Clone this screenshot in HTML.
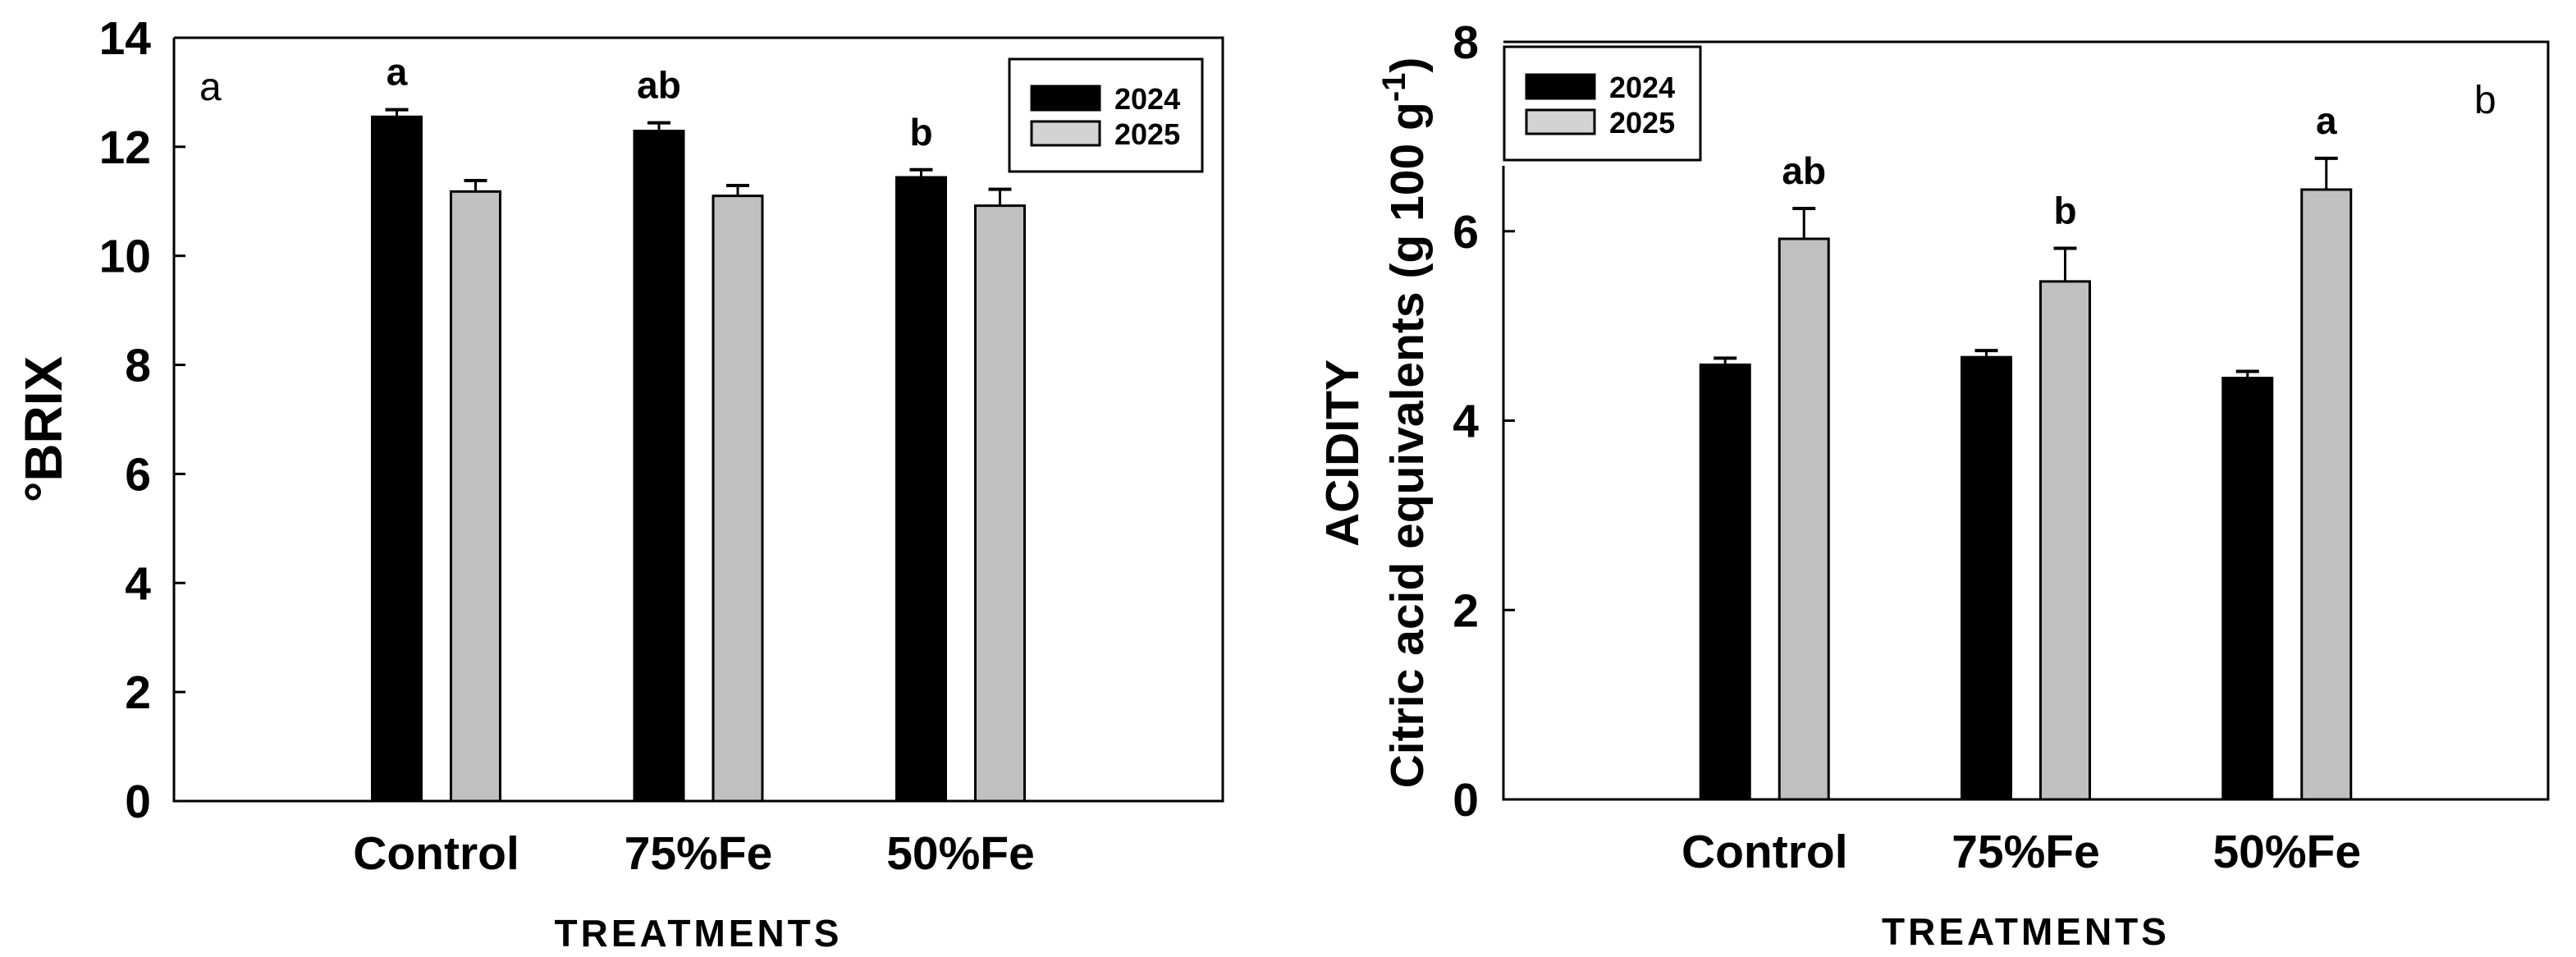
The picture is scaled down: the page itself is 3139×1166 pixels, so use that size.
<!DOCTYPE html>
<html><head><meta charset="utf-8"><style>
html,body{margin:0;padding:0;background:#fff;}
svg{display:block;}
text{font-family:"Liberation Sans",Arial,sans-serif;font-weight:bold;fill:#000;}
</style></head><body>
<svg id="fig" width="3139" height="1166" viewBox="0 0 3139 1166" xmlns="http://www.w3.org/2000/svg"></svg>
<script>
const categories = ["Control", "75%Fe", "50%Fe"];
const seriesNames = ["2024", "2025"];
const brix2024 = [12.55, 12.29, 11.44];
const brix2025 = [11.18, 11.10, 10.92];
const brixErr2024 = [0.13, 0.15, 0.14];
const brixErr2025 = [0.2, 0.19, 0.3];
const brixLetters = ["a", "ab", "b"];
const brixTicks = [0, 2, 4, 6, 8, 10, 12, 14];
const acid2024 = [4.59, 4.67, 4.45];
const acid2025 = [5.92, 5.47, 6.44];
const acidErr2024 = [0.07, 0.07, 0.07];
const acidErr2025 = [0.32, 0.35, 0.33];
const acidLetters = ["ab", "b", "a"];
const acidTicks = [0, 2, 4, 6, 8];

const NS = "http://www.w3.org/2000/svg";
const svg = document.getElementById("fig");
function mk(tag, attrs, parent) {
  const e = document.createElementNS(NS, tag);
  for (const k in attrs) e.setAttribute(k, attrs[k]);
  (parent || svg).appendChild(e);
  return e;
}
function txt(s, attrs, parent) { const t = mk("text", attrs, parent); t.textContent = s; return t; }

function panel(cfg) {
  const g = mk("g", {});
  
  
  const L = cfg.left, R = cfg.right, T = cfg.top, B = cfg.bottom;
  const y = v => B - (v - 0) / (cfg.ymax) * (B - T);
  const x = i => L + (i + 1) * (R - L) / 4;
  // axes
  const ax = mk("path", {d: `M${L},${cfg.axisBreak ? cfg.axisBreak : T} L${L},${B} L${R},${B} L${R},${T} L${L},${T}`, fill: "none", stroke: "#000", "stroke-width": 3}, g);
  
  
  // ticks
  cfg.ticks.forEach(t => {
    const yy = y(t);
    if (!(cfg.axisBreak && yy < cfg.axisBreak)) {
      const tk = mk("line", {x1: L, x2: L + 14, y1: yy, y2: yy, stroke: "#000", "stroke-width": 3}, g);
      
      
    }
    const lb = txt(String(t), {x: cfg.tickRight, y: yy + 20, "font-size": 57, "text-anchor": "end"}, g);
    
    
  });
  const bw = 60, off = 48;
  const series = [cfg.s1, cfg.s2], errs = [cfg.e1, cfg.e2];
  categories.forEach((c, i) => {
    const cx = x(i);
    series.forEach((s, k) => {
      const bx = cx + (k === 0 ? -off - bw / 2 : off - bw / 2);
      const top = y(s[i]);
      const et = y(s[i] + errs[k][i]);
      const el = mk("line", {x1: bx + bw / 2, x2: bx + bw / 2, y1: top, y2: et, stroke: "#000", "stroke-width": 3}, g);
      
      
      const ec = mk("line", {x1: bx + bw / 2 - 14, x2: bx + bw / 2 + 14, y1: et, y2: et, stroke: "#000", "stroke-width": 4}, g);
      
      
      const r = mk("rect", {x: bx, y: top, width: bw, height: B - top, fill: k === 0 ? "#000" : "#c0c0c0", stroke: "#000", "stroke-width": 3}, g);
      
      
      if (k === cfg.letterSeries) {
        const lt = txt(cfg.letters[i], {x: bx + bw / 2, y: et - 30, "font-size": 46, "text-anchor": "middle"}, g);
        
        
      }
    });
    const cl = txt(c, {x: cx, y: B + 83, "font-size": 57, "text-anchor": "middle"}, g);
    
    
  });
  const xt = txt("TREATMENTS", {x: (L + R) / 2, y: B + 177, "font-size": 46, "text-anchor": "middle", "letter-spacing": 4}, g);
  
  
  // legend
  const lg = mk("g", {}, g);
  
  
  const Lb = cfg.legend;
  mk("rect", {x: Lb.x, y: Lb.y, width: Lb.w, height: Lb.h, fill: "#fff", stroke: "#000", "stroke-width": 3}, lg);
  seriesNames.forEach((n, k) => {
    const sy = Lb.y + Lb.sy + k * 43;
    const sw = mk("rect", {x: Lb.x + 27, y: sy, width: 83, height: 29, fill: k === 0 ? "#000" : "#d3d3d3", stroke: "#000", "stroke-width": 3}, lg);
    
    
    const lt = txt(n, {x: Lb.x + 128, y: sy + 28, "font-size": 36}, lg);
    
    
  });
  const pl = txt(cfg.panelLabel, {x: cfg.panelX, y: cfg.panelY, "font-size": 48, "font-weight": "normal", style: "font-weight:normal"}, g);
  
  
  return g;
}

panel({name: "brix-chart", left: 212, right: 1490, top: 46, bottom: 976, ymax: 14, ticks: brixTicks, tickRight: 184,
  s1: brix2024, s2: brix2025, e1: brixErr2024, e2: brixErr2025, letters: brixLetters, letterSeries: 0,
  legend: {x: 1230, y: 72, w: 235, h: 137, sy: 33}, panelLabel: "a", panelX: 243, panelY: 122});
panel({name: "acidity-chart", left: 1832, right: 3105, top: 51, bottom: 974, ymax: 8, ticks: acidTicks, tickRight: 1802,
  s1: acid2024, s2: acid2025, e1: acidErr2024, e2: acidErr2025, letters: acidLetters, letterSeries: 1,
  legend: {x: 1833, y: 57, w: 239, h: 138, sy: 34}, axisBreak: 202, panelLabel: "b", panelX: 3015, panelY: 138});

const yl1 = txt("°BRIX", {x: 0, y: 0, "font-size": 64, "text-anchor": "middle", transform: "translate(75,523) rotate(-90)"});


const yl2 = txt("ACIDITY", {x: 0, y: 0, "font-size": 57, "text-anchor": "middle", transform: "translate(1655,552) rotate(-90)"});


const yl3 = mk("text", {x: 0, y: 0, "font-size": 57, "text-anchor": "middle", transform: "translate(1734,515) rotate(-90)"});


yl3.appendChild(document.createTextNode("Citric acid equivalents (g 100 g"));
const sup = document.createElementNS(NS, "tspan");
sup.setAttribute("dy", "-22"); sup.setAttribute("font-size", "40"); sup.textContent = "-1";
yl3.appendChild(sup);
const cp = document.createElementNS(NS, "tspan");
cp.setAttribute("dy", "22"); cp.textContent = ")";
yl3.appendChild(cp);
</script>
</body></html>
